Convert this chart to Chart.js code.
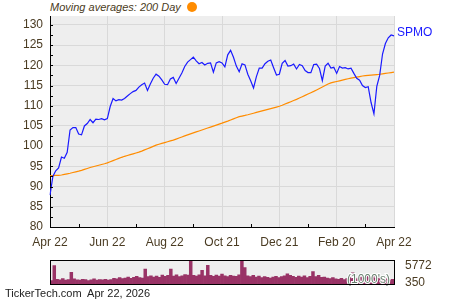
<!DOCTYPE html>
<html>
<head>
<meta charset="utf-8">
<script src="https://cdn.jsdelivr.net/npm/chart.js@4.4.1/dist/chart.umd.min.js"></script>
<style>
    body { margin: 0; background: #fff; width: 450px; height: 300px; position: relative; overflow: hidden; font-family: "Liberation Sans", Arial, sans-serif; }
    #priceChart { position: absolute; left: 0; top: 0; }
    #volChart { position: absolute; left: 0; top: 250px; }
    .legend { position: absolute; left: 50px; top: 1px; font-size: 11px; font-style: italic; color: #4a3b22; }
    .dot { position: absolute; left: 187px; top: 2px; width: 10px; height: 10px; border-radius: 50%; background: #ff8c00; }
    .footer { position: absolute; left: 5px; top: 287px; font-size: 11px; color: #222; white-space: pre; }
</style>
</head>
<body>
<div class="legend">Moving averages: 200 Day</div>
<div class="dot"></div>
<canvas id="priceChart" width="450" height="250"></canvas>
<canvas id="volChart" width="450" height="50"></canvas>
<div class="footer">TickerTech.com  Apr 22, 2026</div>
<script>
    // x axis tick labels (every 20 points)
    const tickLabels = ['Apr 22', 'Jun 22', 'Aug 22', 'Oct 21', 'Dec 21', 'Feb 20', 'Apr 22'];

    // SPMO closing prices
    const prices = [
        87.9, 92.5, 93.9, 94.6, 97.3, 97.0, 98.5, 104.0, 104.6, 104.6,
        103.0, 102.8, 105.0, 105.6, 106.6, 105.8, 106.7, 106.6, 106.8, 106.5,
        106.8, 109.8, 111.8, 111.2, 111.5, 111.4, 111.8, 112.4, 113.0, 113.5,
        113.8, 114.6, 115.2, 115.6, 113.8, 115.4, 116.8, 117.8, 117.3, 116.4,
        115.3, 115.2, 116.6, 117.0, 115.5, 116.8, 118.1, 119.7, 120.8, 121.4,
        122.0, 121.1, 120.4, 120.7, 120.1, 120.5, 120.6, 118.3, 120.6, 120.9,
        120.6, 119.6, 122.6, 123.7, 122.0, 119.8, 118.4, 120.4, 120.1, 117.8,
        116.2, 114.4, 117.2, 119.3, 119.3, 120.4, 121.0, 121.3, 119.4, 117.6,
        117.8, 120.5, 121.2, 119.8, 119.9, 120.3, 119.1, 120.2, 119.9, 118.7,
        118.2, 118.2, 120.2, 120.3, 119.2, 116.2, 119.8, 120.5, 119.3, 119.5,
        118.0, 119.7, 119.3, 119.4, 119.1, 119.3, 118.0, 116.8, 116.3, 115.0,
        114.5, 114.7, 110.8, 108.0, 114.8, 117.5, 122.8, 125.4, 126.8, 127.5,
        127.3
    ];

    // 200 day moving average
    const movingAvg = [
        92.7, 92.73, 92.76, 92.79, 92.87, 93.02, 93.16, 93.3, 93.48, 93.65,
        93.82, 94.02, 94.25, 94.48, 94.71, 94.9, 95.09, 95.28, 95.46, 95.65,
        95.86, 96.13, 96.41, 96.69, 96.97, 97.24, 97.49, 97.7, 97.9, 98.1,
        98.31, 98.52, 98.78, 99.07, 99.36, 99.65, 99.94, 100.24, 100.46, 100.67,
        100.87, 101.08, 101.29, 101.5, 101.75, 102.01, 102.27, 102.53, 102.78, 103.04,
        103.28, 103.52, 103.76, 104.0, 104.24, 104.48, 104.72, 104.96, 105.2, 105.45,
        105.69, 105.95, 106.2, 106.47, 106.74, 107.02, 107.29, 107.45, 107.6, 107.77,
        107.96, 108.15, 108.34, 108.53, 108.72, 108.91, 109.1, 109.29, 109.48, 109.67,
        109.86, 110.12, 110.42, 110.71, 111.0, 111.29, 111.58, 111.9, 112.23, 112.56,
        112.89, 113.22, 113.55, 113.91, 114.28, 114.64, 115.0, 115.36, 115.66, 115.83,
        116.0, 116.17, 116.34, 116.51, 116.67, 116.81, 116.95, 117.08, 117.22, 117.36,
        117.45, 117.52, 117.59, 117.65, 117.72, 117.79, 117.89, 117.99, 118.1, 118.2,
        118.3
    ];

    // volume in thousands
    const volumes = [
        1100, 5800, 1500, 1300, 1700, 1200, 1400, 3700, 1600, 1300,
        1200, 1500, 1400, 1100, 1300, 1600, 1200, 1400, 1300, 1500,
        1200, 1400, 1800, 1600, 2000, 1700, 1900, 2200, 1800, 2100,
        2400, 2000, 1900, 4700, 2300, 2600, 2200, 2500, 2100, 2800,
        2400, 2700, 4700, 2500, 2900, 2300, 2600, 3000, 2800, 7500,
        2700, 2500, 2900, 4300, 2600, 5900, 2700, 2400, 2800, 2500,
        3100, 2600, 2300, 2700, 2500, 2400, 2900, 7500, 5200, 2600,
        2300, 2700, 2200, 2500, 2000, 2300, 2100, 1900, 2200, 2400,
        2000, 2300, 2600, 3200, 2700, 2400, 2100, 2500, 2200, 2600,
        2000, 2400, 3900, 2300, 2700, 2100, 2200, 1900, 1700, 2000,
        1600, 1500, 1800, 1400, 1700, 2000, 3500, 1600, 1900, 2200,
        1800, 2400, 2100, 2700, 1900, 2300, 1600, 1400, 1700, 1200,
        1500
    ];
    const volTicks = [350, 5772];

    const labelColor = '#4a3b22';
    const tickFont = { family: '"Liberation Sans", Arial, sans-serif', size: 12 };
    const labels = prices.map((p, i) => i);

    // grey plot background
    const plotBackground = {
        id: 'plotBackground',
        beforeDraw(chart) {
            const { ctx, chartArea: a } = chart;
            ctx.save();
            ctx.fillStyle = '#eeeeee';
            ctx.fillRect(a.left, a.top, a.right - a.left, a.bottom - a.top);
            ctx.restore();
        }
    };

    // small inward tick marks on both axes
    const innerTicks = {
        id: 'innerTicks',
        afterDraw(chart) {
            const { ctx, chartArea: a, scales } = chart;
            ctx.save();
            ctx.strokeStyle = '#000';
            ctx.lineWidth = 1;
            ctx.beginPath();
            for (let v = 80; v <= 130; v += 2.5) {
                const py = Math.round(scales.y.getPixelForValue(v)) + 0.5;
                ctx.moveTo(a.left, py);
                ctx.lineTo(a.left + 3, py);
            }
            for (let i = 10; i < prices.length; i += 20) {
                const px = Math.round(scales.x.getPixelForValue(i)) + 0.5;
                ctx.moveTo(px, a.bottom);
                ctx.lineTo(px, a.bottom - 3);
            }
            ctx.stroke();
            ctx.restore();
        }
    };

    // ticker name next to last price
    const seriesName = {
        id: 'seriesName',
        afterDraw(chart) {
            const pts = chart.getDatasetMeta(0).data;
            const last = pts[pts.length - 1];
            const ctx = chart.ctx;
            ctx.save();
            ctx.font = '12px "Liberation Sans", Arial, sans-serif';
            ctx.fillStyle = '#1a1aff';
            ctx.textBaseline = 'middle';
            ctx.fillText('SPMO', last.x + 3, last.y - 3);
            ctx.restore();
        }
    };

    new Chart(document.getElementById('priceChart'), {
        type: 'line',
        data: {
            labels: labels,
            datasets: [{
                data: prices,
                borderColor: '#1a1aff',
                borderWidth: 1.2,
                pointRadius: 0,
                tension: 0
            }, {
                data: movingAvg,
                borderColor: '#ff8c00',
                borderWidth: 1.2,
                pointRadius: 0,
                tension: 0
            }]
        },
        options: {
            responsive: false,
            animation: false,
            layout: { padding: { top: 16, right: 56, left: 0, bottom: 0 } },
            plugins: { legend: { display: false }, tooltip: { enabled: false } },
            scales: {
                x: {
                    type: 'category',
                    offset: false,
                    afterFit: scale => { scale.height = 23; },
                    grid: {
                        color: ctx => ctx.index % 20 === 0 ? '#d9d9d9' : 'rgba(0,0,0,0)',
                        drawTicks: false
                    },
                    border: { color: '#000', width: 1 },
                    ticks: {
                        autoSkip: false,
                        maxRotation: 0,
                        padding: 8,
                        color: labelColor,
                        font: tickFont,
                        callback: (v, i) => i % 20 === 0 ? tickLabels[i / 20] : ''
                    }
                },
                y: {
                    min: 80,
                    max: 132.2,
                    afterFit: scale => { scale.width = 50; },
                    grid: { color: '#d9d9d9', drawTicks: false },
                    border: { color: '#000', width: 1 },
                    ticks: {
                        stepSize: 5,
                        includeBounds: false,
                        padding: 7,
                        color: labelColor,
                        font: tickFont
                    }
                }
            }
        },
        plugins: [plotBackground, innerTicks, seriesName]
    });

    // frame and units label for the volume panel
    const volFrame = {
        id: 'volFrame',
        afterDraw(chart) {
            const { ctx, chartArea: a } = chart;
            ctx.save();
            ctx.font = '12px "Liberation Sans", Arial, sans-serif';
            ctx.textAlign = 'right';
            ctx.textBaseline = 'middle';
            ctx.lineWidth = 2;
            ctx.strokeStyle = '#ffffff';
            ctx.strokeText("(1000's)", a.right - 4, a.bottom - 4);
            ctx.fillStyle = '#6b8070';
            ctx.fillText("(1000's)", a.right - 4, a.bottom - 4);
            ctx.strokeStyle = '#000';
            ctx.lineWidth = 1;
            ctx.strokeRect(Math.round(a.left) + 0.5, Math.round(a.top) + 0.5, Math.round(a.right - a.left), Math.round(a.bottom - a.top));
            ctx.restore();
        }
    };

    new Chart(document.getElementById('volChart'), {
        type: 'bar',
        data: {
            labels: labels,
            datasets: [{
                data: volumes,
                backgroundColor: '#993366',
                categoryPercentage: 1,
                barPercentage: 1
            }]
        },
        options: {
            responsive: false,
            animation: false,
            layout: { padding: { top: 7, right: 0, left: 50, bottom: 16 } },
            plugins: { legend: { display: false }, tooltip: { enabled: false } },
            scales: {
                x: { display: false },
                y: {
                    position: 'right',
                    min: 0,
                    max: 7500,
                    afterFit: scale => { scale.width = 56; },
                    afterBuildTicks: scale => { scale.ticks = volTicks.map(v => ({ value: v })); },
                    grid: { display: false },
                    border: { display: false },
                    ticks: { padding: 3, color: labelColor, font: tickFont, callback: v => String(v) }
                }
            }
        },
        plugins: [plotBackground, volFrame]
    });
</script>
</body>
</html>
